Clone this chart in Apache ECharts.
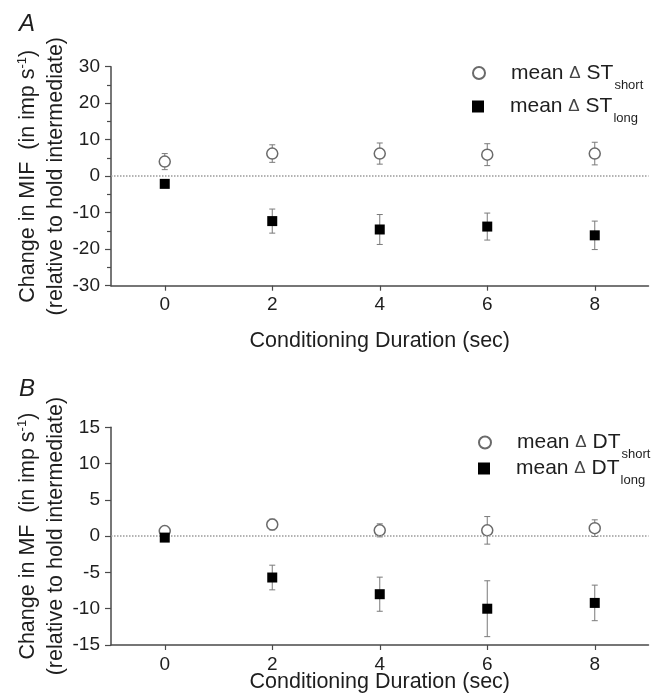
<!DOCTYPE html>
<html>
<head>
<meta charset="utf-8">
<title>Change in MIF and MF vs conditioning duration</title>
<script src="https://cdn.jsdelivr.net/npm/echarts@6/dist/echarts.min.js"></script>
</head>
<body style="margin: 0; background: #fff">
<div id="container" style="width: 659px; height: 700px"></div>
<script>
// conditioning duration (sec)
var durations = [0, 2, 4, 6, 8];
var xTicks = [0, 2, 4, 6, 8];

// panel A: change in MIF (mean and SE)
var stShortMean = [4.0, 6.2, 6.2, 5.9, 6.2];
var stShortSE = [2.2, 2.4, 2.9, 3.0, 3.1];
var stLongMean = [-2.1, -12.3, -14.6, -13.8, -16.2];
var stLongSE = [0.8, 3.3, 4.1, 3.7, 3.9];

// panel B: change in MF (mean and SE)
var dtShortMean = [0.7, 1.6, 0.8, 0.8, 1.1];
var dtShortSE = [0.45, 0.75, 0.9, 1.9, 1.15];
var dtLongMean = [-0.2, -5.7, -8.0, -10.0, -9.2];
var dtLongSE = [0.3, 1.7, 2.35, 3.85, 2.45];

var FONT = '"Liberation Sans", Arial, sans-serif';
var INK = '#1e1e1e';
var AXIS = '#4a4a4a';

var dom = document.getElementById('container');
var myChart = echarts.init(dom, null, { renderer: 'canvas' });

function pts(mean) {
    return durations.map(function (d, i) { return [d, mean[i]]; });
}

function errorBars(idx, mean, se) {
    return {
        type: 'custom',
        xAxisIndex: idx,
        yAxisIndex: idx,
        silent: true,
        z: 2,
        encode: { x: 0, y: [1, 2] },
        data: durations.map(function (d, i) { return [d, mean[i] - se[i], mean[i] + se[i]]; }),
        renderItem: function (params, api) {
            var lo = api.coord([api.value(0), api.value(1)]);
            var hi = api.coord([api.value(0), api.value(2)]);
            var w = 3;
            var st = { stroke: '#7a7a7a', lineWidth: 1 };
            return {
                type: 'group',
                children: [
                    { type: 'line', shape: { x1: lo[0], y1: lo[1], x2: hi[0], y2: hi[1] }, style: st },
                    { type: 'line', shape: { x1: lo[0] - w, y1: lo[1], x2: lo[0] + w, y2: lo[1] }, style: st },
                    { type: 'line', shape: { x1: hi[0] - w, y1: hi[1], x2: hi[0] + w, y2: hi[1] }, style: st }
                ]
            };
        }
    };
}

var zeroLine = {
    silent: true,
    symbol: ['none', 'none'],
    label: { show: false },
    lineStyle: { type: 'dotted', color: '#9a9a9a', width: 1.5 },
    data: [{ yAxis: 0 }]
};

var richLegend = {
    m: { fontSize: 21, lineHeight: 37, fontFamily: FONT, color: INK, padding: [0, 0, 0, 21] },
    d: { fontSize: 17, lineHeight: 37, fontFamily: FONT, color: '#444' },
    n: { fontSize: 21, lineHeight: 37, fontFamily: FONT, color: INK },
    s: { fontSize: 13, lineHeight: 13, fontFamily: FONT, color: INK, verticalAlign: 'bottom', padding: [0, 0, 0, 1] }
};
var legendLabels = {
    'ST short': '{m|mean }{d|Δ}{n| ST}{s|short}',
    'ST long': '{m|mean }{d|Δ}{n| ST}{s|long}',
    'DT short': '{m|mean }{d|Δ}{n| DT}{s|short}',
    'DT long': '{m|mean }{d|Δ}{n| DT}{s|long}'
};
function legendRow(name, icon, left, centerY) {
    return {
        data: [{ name: name, icon: icon }],
        left: left,
        top: centerY - 10,
        padding: 0,
        itemWidth: 12,
        itemHeight: 12,
        selectedMode: false,
        formatter: function (n) { return legendLabels[n]; },
        textStyle: { rich: richLegend }
    };
}

function xAxisOf(idx, nameGap) {
    return {
        type: 'value',
        gridIndex: idx,
        min: -1,
        max: 9,
        name: 'Conditioning Duration (sec)',
        nameLocation: 'middle',
        nameGap: nameGap,
        nameMoveOverlap: false,
        nameTextStyle: { fontSize: 21.5, fontFamily: FONT, color: INK },
        axisLine: { onZero: false, lineStyle: { color: AXIS, width: 1.5 } },
        axisTick: { show: true, length: 5, customValues: xTicks, lineStyle: { color: AXIS, width: 1.2 } },
        axisLabel: { customValues: xTicks, fontSize: 19, fontFamily: FONT, color: INK, margin: 10 },
        splitLine: { show: false }
    };
}

function yAxisOf(idx, min, max, interval, topLine, minor) {
    return {
        type: 'value',
        gridIndex: idx,
        min: min,
        max: max,
        interval: interval,
        name: topLine + '\n{t|(relative to hold intermediate)}',
        nameLocation: 'middle',
        nameGap: 41,
        nameMoveOverlap: false,
        nameTextStyle: {
            rich: {
                t: { fontSize: 21.5, lineHeight: 28, fontFamily: FONT, color: INK },
                p: { fontSize: 13, lineHeight: 13, fontFamily: FONT, color: INK, verticalAlign: 'top', padding: [2, 0, 0, 0] }
            }
        },
        axisLine: { show: true, onZero: false, lineStyle: { color: AXIS, width: 1.5 } },
        axisTick: { show: true, length: 6, lineStyle: { color: AXIS, width: 1.2 } },
        minorTick: { show: minor, splitNumber: 2, length: 4, lineStyle: { color: AXIS, width: 1.2 } },
        axisLabel: { fontSize: 19, fontFamily: FONT, color: INK, margin: 11 },
        splitLine: { show: false }
    };
}

function openCircles(name, idx, mean) {
    return {
        name: name, type: 'scatter', xAxisIndex: idx, yAxisIndex: idx, z: 4,
        symbol: 'circle', symbolSize: 11,
        itemStyle: { color: '#fff', borderColor: '#6a6a6a', borderWidth: 1.5, opacity: 1 },
        data: pts(mean),
        markLine: zeroLine
    };
}
function filledSquares(name, idx, mean) {
    return {
        name: name, type: 'scatter', xAxisIndex: idx, yAxisIndex: idx, z: 5,
        symbol: 'rect', symbolSize: 10,
        itemStyle: { color: '#000', opacity: 1 },
        data: pts(mean)
    };
}

var option = {
    animation: false,
    backgroundColor: '#fff',
    title: [
        { text: 'A', left: 19, top: 12, padding: 0, textStyle: { fontSize: 24, fontStyle: 'italic', fontWeight: 'normal', fontFamily: FONT, color: INK } },
        { text: 'B', left: 19, top: 377, padding: 0, textStyle: { fontSize: 24, fontStyle: 'italic', fontWeight: 'normal', fontFamily: FONT, color: INK } }
    ],
    legend: [
        legendRow('ST short', 'circle', 472, 72.5),
        legendRow('ST long', 'rect', 472, 106),
        legendRow('DT short', 'circle', 478, 442),
        legendRow('DT long', 'rect', 478, 468)
    ],
    grid: [
        { left: 111, right: 10.5, top: 66.7, height: 219 },
        { left: 111, right: 10.5, top: 427.3, height: 217.7 }
    ],
    xAxis: [xAxisOf(0, 44), xAxisOf(1, 26.5)],
    yAxis: [
        yAxisOf(0, -30, 30, 10, '{t|Change in MIF  (in imp s}{p|-1}{t|)}', true),
        yAxisOf(1, -15, 15, 5, '{t|Change in MF  (in imp s}{p|-1}{t|)}', false)
    ],
    series: [
        errorBars(0, stShortMean, stShortSE),
        errorBars(0, stLongMean, stLongSE),
        openCircles('ST short', 0, stShortMean),
        filledSquares('ST long', 0, stLongMean),
        errorBars(1, dtShortMean, dtShortSE),
        errorBars(1, dtLongMean, dtLongSE),
        openCircles('DT short', 1, dtShortMean),
        filledSquares('DT long', 1, dtLongMean)
    ]
};
myChart.setOption(option);
</script>
</body>
</html>
